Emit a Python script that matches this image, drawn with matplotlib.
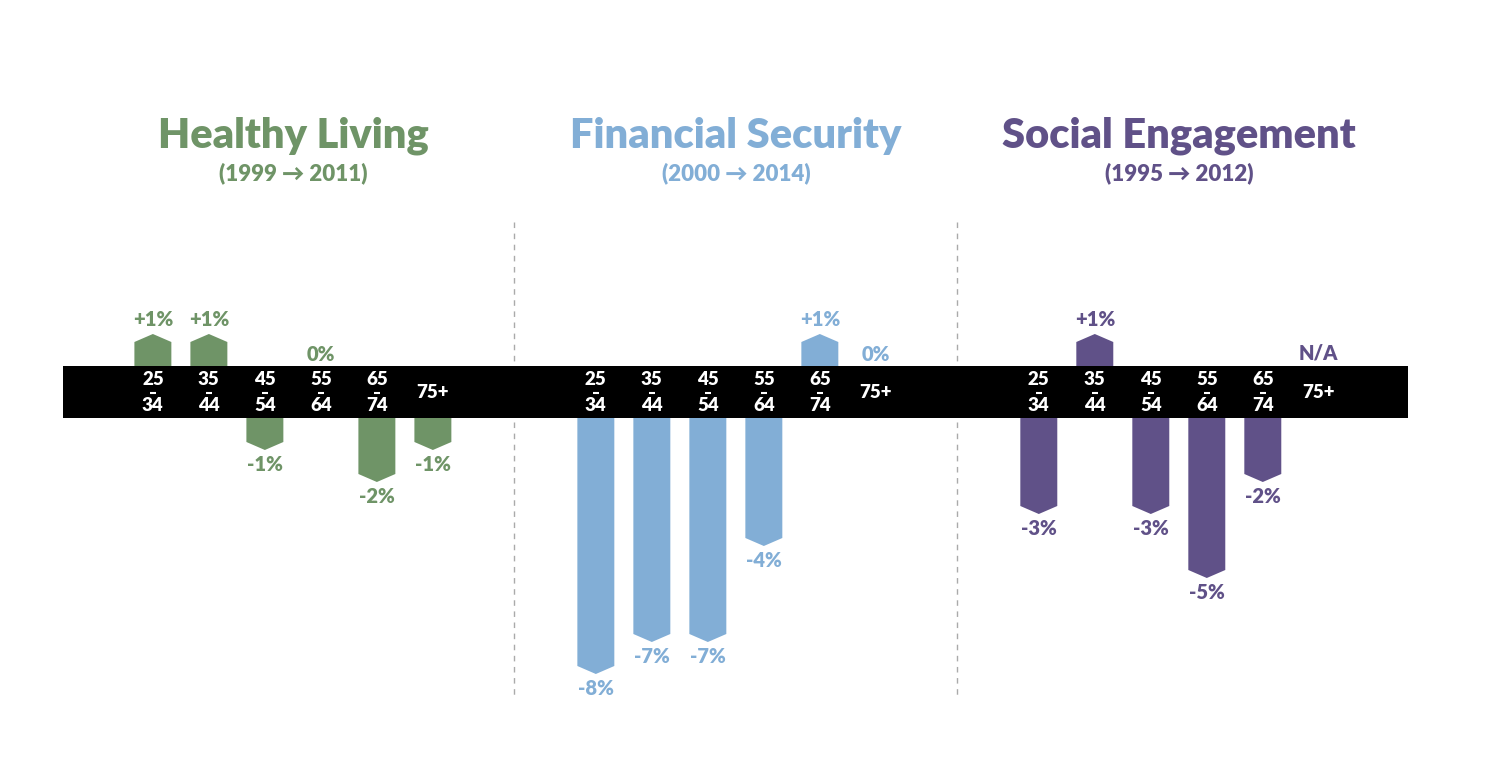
import matplotlib
matplotlib.use("Agg")
import matplotlib.pyplot as plt
from matplotlib.patches import Polygon, Rectangle

plt.rcParams['font.family'] = ['Lato', 'DejaVu Sans']
plt.rcParams['font.weight'] = 'bold'

# data
titles = ["Healthy Living", "Financial Security", "Social Engagement"]
periods = ["(1999 \u2192 2011)", "(2000 \u2192 2014)", "(1995 \u2192 2012)"]
age_top = ["25", "35", "45", "55", "65", "75+"]
age_bottom = ["34", "44", "54", "64", "74", None]
healthy = [1, 1, -1, 0, -2, -1]
financial = [-8, -7, -7, -4, 1, 0]
social = [-3, 1, -3, -5, -2, None]
colours = ["#6f9467", "#82aed6", "#605188"]

series = [healthy, financial, social]

# layout (x in bar slots, y in percent points)
first_x = 2.73
group_step = 7.91
bar_w = 0.66
tip = 0.25
half_band = 0.8125
fs = 14.5
fs_band = 13.5

fig = plt.figure(figsize=(15, 7.84), dpi=100)
ax = fig.add_axes([0, 0, 1, 1])
ax.set_xlim(0, 1500 / 56)
ax.set_ylim(-12.25, 12.25)
ax.axis('off')

n = len(age_top)
left = first_x - 1.6
right = first_x + 2 * group_step + (n - 1) + 1.6
ax.add_patch(Rectangle((left, -half_band), right - left, 2 * half_band,
                       facecolor='black', edgecolor='none', zorder=2))

for g, vals in enumerate(series):
    c = colours[g]
    x0 = first_x + g * group_step
    xc = x0 + (n - 1) / 2
    ax.text(xc, 8.0, titles[g], ha='center', va='center', fontsize=30,
            color=c, fontweight='heavy')
    ax.text(xc, 6.85, periods[g], ha='center', va='center', fontsize=16,
            color=c, fontweight='heavy')
    if g > 0:
        xd = x0 - group_step + (n - 1) + (group_step - (n - 1)) / 2
        ax.plot([xd, xd], [5.3, -9.55], color='#aaaaaa', lw=1,
                ls=(0, (4, 4)), zorder=1)
    for i, v in enumerate(vals):
        x = x0 + i
        # age labels in band
        if age_bottom[i] is None:
            ax.text(x, 0.0, age_top[i], ha='center', va='center',
                    fontsize=fs_band, color='white', zorder=3,
                    fontweight='heavy')
        else:
            ax.text(x, 0.38, age_top[i], ha='center', va='center',
                    fontsize=fs_band, color='white', zorder=3,
                    fontweight='heavy')
            ax.plot([x - 0.055, x + 0.055], [-0.02, -0.02], color='white',
                    lw=1.5, zorder=3, solid_capstyle='butt')
            ax.text(x, -0.42, age_bottom[i], ha='center', va='center',
                    fontsize=fs_band, color='white', zorder=3,
                    fontweight='heavy')
        if v is None:
            ax.text(x, half_band + 0.4, "N/A", ha='center', va='center',
                    fontsize=fs, color=c, fontweight='heavy')
            continue
        if v == 0:
            ax.text(x, half_band + 0.36, "0%", ha='center', va='center',
                    fontsize=fs, color=c, fontweight='heavy')
            continue
        s = 1 if v > 0 else -1
        base = s * half_band
        end = base + v
        shoulder = end - s * tip
        pts = [(x - bar_w / 2, base), (x - bar_w / 2, shoulder), (x, end),
               (x + bar_w / 2, shoulder), (x + bar_w / 2, base)]
        ax.add_patch(Polygon(pts, closed=True, facecolor=c, edgecolor='none',
                             zorder=1))
        lab = ("+%d%%" % v) if v > 0 else ("%d%%" % v)
        ax.text(x, end + s * 0.44, lab, ha='center', va='center',
                fontsize=fs, color=c, fontweight='heavy')

fig.savefig("out.png", dpi=100, facecolor='white')
